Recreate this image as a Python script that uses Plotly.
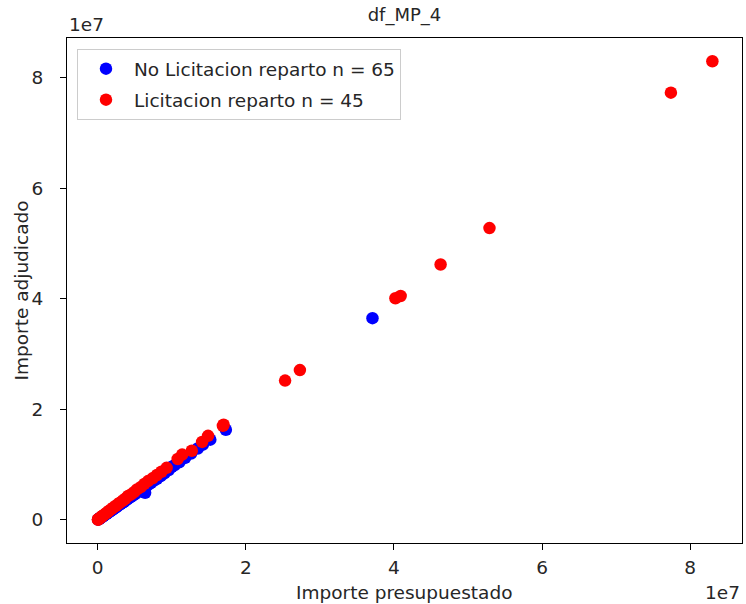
import plotly.graph_objects as go

# Values in euros (x = presupuestado, y = adjudicado)
no_lic_x = [0.1e6, 0.2e6, 0.3e6, 0.4e6, 0.5e6, 0.6e6, 0.7e6, 0.8e6, 0.9e6, 1.0e6,
            1.1e6, 1.2e6, 1.3e6, 1.4e6, 1.5e6, 1.6e6, 1.7e6, 1.8e6, 1.9e6, 2.0e6,
            2.1e6, 2.2e6, 2.3e6, 2.4e6, 2.5e6, 2.6e6, 2.8e6, 3.0e6, 3.1e6, 3.3e6,
            3.5e6, 3.6e6, 3.8e6, 4.0e6, 4.2e6, 4.4e6, 4.6e6, 4.8e6, 5.0e6, 5.2e6,
            5.5e6, 5.8e6, 6.0e6, 6.4e6, 6.6e6, 6.9e6, 7.2e6, 7.6e6, 8.0e6, 8.5e6,
            9.0e6, 9.6e6, 10.0e6, 10.4e6, 11.0e6, 11.8e6, 12.6e6, 13.5e6, 14.2e6, 15.2e6,
            17.3e6, 37.1e6, 0.05e6, 0.15e6, 0.25e6]
no_lic_y = [0.09e6, 0.18e6, 0.28e6, 0.37e6, 0.46e6, 0.55e6, 0.66e6, 0.74e6, 0.85e6, 0.93e6,
            1.02e6, 1.1e6, 1.22e6, 1.3e6, 1.38e6, 1.5e6, 1.58e6, 1.66e6, 1.77e6, 1.85e6,
            1.96e6, 2.04e6, 2.15e6, 2.22e6, 2.33e6, 2.4e6, 2.6e6, 2.78e6, 2.9e6, 3.05e6,
            3.26e6, 3.3e6, 3.55e6, 3.7e6, 3.92e6, 4.1e6, 4.25e6, 4.5e6, 4.6e6, 4.85e6,
            5.1e6, 5.35e6, 5.6e6, 4.9e6, 6.1e6, 6.4e6, 6.7e6, 7.1e6, 7.4e6, 7.9e6,
            8.4e6, 9.0e6, 9.6e6, 9.9e6, 10.4e6, 11.2e6, 12.0e6, 12.9e6, 13.6e6, 14.5e6,
            16.3e6, 36.5e6, 0.04e6, 0.14e6, 0.23e6]

lic_x = [83.0e6, 77.4e6, 52.9e6, 46.3e6, 40.2e6, 40.9e6, 27.3e6, 25.3e6, 17.0e6, 16.9e6,
         14.9e6, 14.1e6, 12.7e6, 11.4e6, 10.8e6, 9.3e6, 8.6e6, 8.0e6, 7.4e6, 6.8e6,
         6.3e6, 5.8e6, 5.3e6, 4.9e6, 4.5e6, 4.1e6, 3.7e6, 3.4e6, 3.0e6, 2.7e6,
         2.4e6, 2.1e6, 1.8e6, 1.5e6, 1.3e6, 1.1e6, 0.9e6, 0.7e6, 0.55e6, 0.4e6,
         0.3e6, 0.2e6, 0.12e6, 0.06e6, 0.02e6]
lic_y = [83.0e6, 77.3e6, 52.8e6, 46.2e6, 40.1e6, 40.5e6, 27.1e6, 25.2e6, 17.2e6, 17.0e6,
         15.2e6, 14.1e6, 12.5e6, 11.8e6, 11.0e6, 9.4e6, 8.7e6, 8.1e6, 7.5e6, 7.0e6,
         6.5e6, 5.9e6, 5.5e6, 5.0e6, 4.6e6, 4.3e6, 3.8e6, 3.5e6, 3.1e6, 2.8e6,
         2.5e6, 2.2e6, 1.9e6, 1.6e6, 1.35e6, 1.15e6, 0.95e6, 0.75e6, 0.6e6, 0.42e6,
         0.31e6, 0.21e6, 0.13e6, 0.06e6, 0.02e6]

tick_vals = [0, 2e7, 4e7, 6e7, 8e7]
tick_text = ["0", "2", "4", "6", "8"]

FONT = "DejaVu Sans"
FS = 18.5
TXT = "#262626"

fig = go.Figure()
fig.add_trace(go.Scatter(
    x=no_lic_x, y=no_lic_y, mode="markers",
    name=f"No Licitacion reparto n = {len(no_lic_x)}",
    marker=dict(color="blue", size=12.5, line=dict(width=0)),
    legendgroup="a"))
fig.add_trace(go.Scatter(
    x=lic_x, y=lic_y, mode="markers",
    name=f"Licitacion reparto n = {len(lic_x)}",
    marker=dict(color="red", size=12.5, line=dict(width=0)),
    legendgroup="b"))

axis_common = dict(
    showgrid=False, zeroline=False, showline=True, linecolor="black",
    linewidth=1.2, mirror=True, ticks="outside", ticklen=6, tickwidth=1.2,
    tickcolor="black", tickfont=dict(family=FONT, size=FS, color=TXT),
    tickvals=tick_vals, ticktext=tick_text,
)

fig.update_layout(
    width=746, height=604,
    margin=dict(l=67, r=4, t=38, b=61),
    plot_bgcolor="white", paper_bgcolor="white",
    font=dict(family=FONT, size=FS, color=TXT),
    xaxis=dict(range=[-0.415e7, 8.70e7], ticklabelstandoff=2, **axis_common),
    yaxis=dict(range=[-0.42e7, 8.72e7], ticklabelstandoff=13, **axis_common),
    showlegend=True,
    legend=dict(
        x=0.0148, y=0.978, xanchor="left", yanchor="top",
        bgcolor="rgba(255,255,255,0.8)", bordercolor="#cccccc", borderwidth=1,
        font=dict(family=FONT, size=FS, color=TXT),
        tracegroupgap=4, itemwidth=46,
    ),
    title=dict(text="df_MP_4", x=0.5, xref="paper", xanchor="center",
               y=1 - 15 / 604, yanchor="middle",
               font=dict(family=FONT, size=18, color=TXT)),
    annotations=[
        dict(text="1e7", xref="paper", yref="paper", x=0, y=1, xanchor="left",
             yanchor="bottom", yshift=1, showarrow=False,
             font=dict(family=FONT, size=FS, color=TXT)),
        dict(text="1e7", xref="paper", yref="paper", x=1, y=0, xanchor="right",
             yanchor="top", yshift=-37, showarrow=False,
             font=dict(family=FONT, size=FS, color=TXT)),
        dict(text="Importe presupuestado", xref="paper", yref="paper", x=0.5, y=0,
             xanchor="center", yanchor="top", yshift=-37, showarrow=False,
             font=dict(family=FONT, size=FS, color=TXT)),
        dict(text="Importe adjudicado", xref="paper", yref="paper", x=0, y=0.5,
             xanchor="center", yanchor="middle", xshift=-46, textangle=-90,
             showarrow=False, font=dict(family=FONT, size=FS, color=TXT)),
    ],
)

fig.write_html("out.html")
